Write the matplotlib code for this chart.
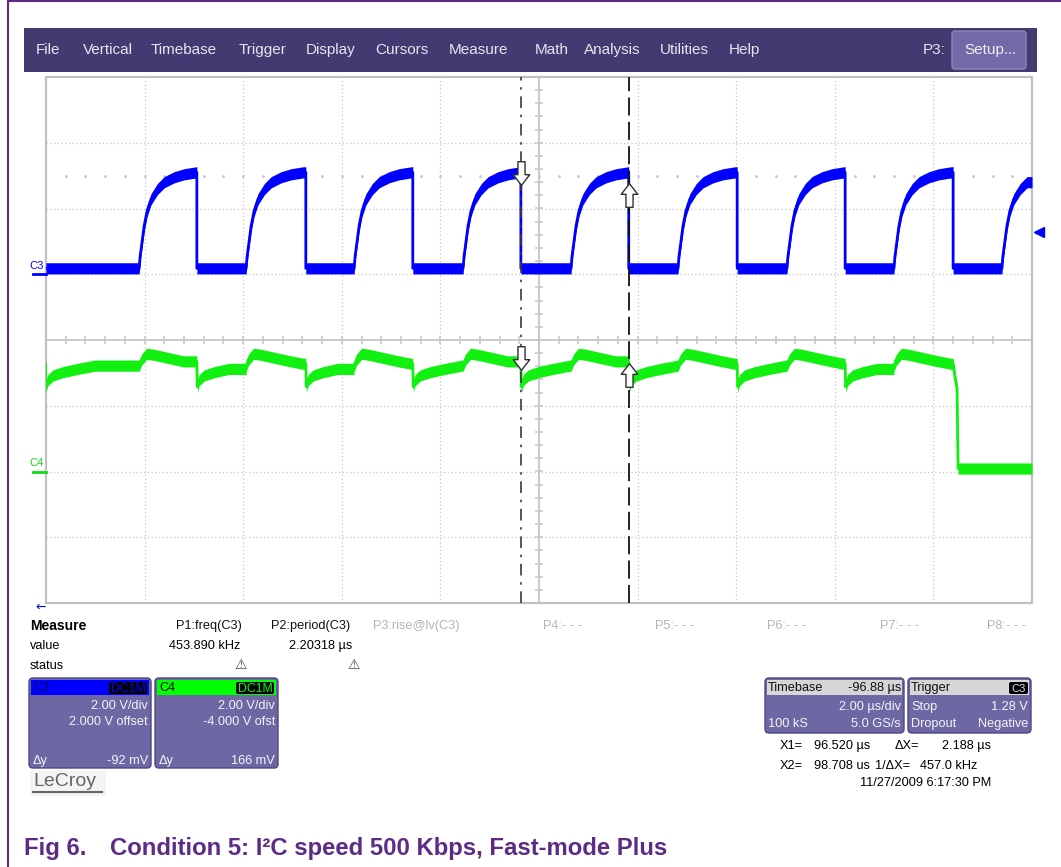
import numpy as np
import matplotlib
matplotlib.use("Agg")
import matplotlib.pyplot as plt
from matplotlib.patches import Rectangle, FancyBboxPatch
from matplotlib.path import Path

plt.rcParams["font.family"] = ["Liberation Sans", "DejaVu Sans"]

W, H = 1061, 867

# ---- scope settings (from the screen readout) ----
T_END = 20.0          # 10 div x 2 us/div, display time in us
VDIV = 2.0            # V/div, both channels
C3_OFFSET = 2.0       # V
C4_OFFSET = -4.0      # V
TRIG_LEVEL = 1.28     # V on C3
X1, X2 = 9.632, 11.820

# ---- C3 (blue) edges in us ----
C3_RISE = [1.89, 4.06, 6.25, 8.46, 10.65, 12.82, 15.03, 17.20, 19.39]
C3_FALL = [3.06, 5.27, 7.44, 9.632, 11.82, 14.02, 16.21, 18.40]
C3_LOW = 0.18
# shape of one C3 rising edge (time after edge in us, volts)
RISE_DT = [0.0, 0.02, 0.06, 0.10, 0.16, 0.24, 0.37, 0.51, 0.71, 0.91, 1.16]
RISE_V = [0.18, 0.55, 1.00, 1.46, 1.92, 2.28, 2.59, 2.80, 2.95, 3.04, 3.10]

# ---- C4 (green) shapes following the C3 edges ----
C4_FALL_DT = [0.0, 0.01, 0.05, 0.15, 0.35, 0.65, 1.00]
C4_FALL_V = [3.27, 2.58, 2.78, 2.92, 3.02, 3.12, 3.22]
C4_RISE_DT = [0.0, 0.05, 0.15, 0.30, 0.60, 0.90, 1.18]
C4_RISE_V = [3.22, 3.40, 3.58, 3.55, 3.45, 3.35, 3.27]
C4_DROP_T = [18.40, 18.44, 18.48, 18.50, 20.0]
C4_DROP_V = [3.27, 2.85, 2.52, 0.09, 0.09]

# cursor arrow levels (V) on each channel
ARROW_C3 = [3.07, 2.40]
ARROW_C4 = [3.44, 2.95]

MENU = ["File", "Vertical", "Timebase", "Trigger", "Display", "Cursors",
        "Measure", "Math", "Analysis", "Utilities", "Help"]
MENU_X = [36, 83, 151, 239, 306, 375, 449, 535, 584, 660, 729]

P_LABELS = ["P1:freq(C3)", "P2:period(C3)", "P3:rise@lv(C3)", "P4:- - -",
            "P5:- - -", "P6:- - -", "P7:- - -", "P8:- - -"]
P_LABEL_X = [176, 271, 373, 543, 655, 767, 880, 987]
P_VALUES = ["453.890 kHz", "2.20318 µs"]
P_VALUE_X = [169, 289]
P_WARN_X = [241, 354]


def seg(t, v, t0, t1, dts, vs):
    for dt, dv in zip(dts, vs):
        if t0 + dt <= t1:
            t.append(t0 + dt)
            v.append(dv)
    t.append(t1)
    v.append(v[-1])


def build_c3():
    t, v = [0.0], [C3_LOW]
    for i, r in enumerate(C3_RISE):
        end = C3_FALL[i] if i < len(C3_FALL) else T_END
        seg(t, v, r, end, RISE_DT, RISE_V)
        if i < len(C3_FALL):
            t.append(end)
            v.append(C3_LOW)
    return np.array(t), np.array(v)


def build_c4():
    t, v = [], []
    seg(t, v, -0.01, C3_RISE[0], C4_FALL_DT, C4_FALL_V)
    for i in range(len(C3_FALL)):
        seg(t, v, C3_RISE[i], C3_FALL[i], C4_RISE_DT, C4_RISE_V)
        if i == len(C3_FALL) - 1:
            t += C4_DROP_T
            v += C4_DROP_V
        else:
            seg(t, v, C3_FALL[i], C3_RISE[i + 1], C4_FALL_DT, C4_FALL_V)
    return np.array(t), np.array(v)


fig = plt.figure(figsize=(W / 100, H / 100), dpi=100)
fig.patch.set_facecolor("white")

# background axes in pixel units (origin top-left)
bg = fig.add_axes([0, 0, 1, 1])
bg.set_xlim(0, W)
bg.set_ylim(H, 0)
bg.axis("off")

purple = "#5b2b86"
bg.plot([8, W], [1, 1], color=purple, lw=1.5)
bg.plot([8, 8], [1, H], color=purple, lw=1.5)

# menu bar
bg.add_patch(Rectangle((24, 28), 1013, 44, fc="#433a72", ec="none"))
for name, x in zip(MENU, MENU_X):
    bg.text(x, 50, name, color="#e6e6ee", fontsize=11, va="center", ha="left")
bg.text(946, 50, "P3:", color="#e6e6ee", fontsize=11, va="center", ha="right")
bg.add_patch(FancyBboxPatch((952, 31), 74, 38, boxstyle="round,pad=0,rounding_size=3",
                            fc="#716aa6", ec="#8d87bb", lw=1))
bg.text(964, 50, "Setup...", color="#eeeef4", fontsize=11, va="center", ha="left")

# measurement table
small = 9.2
bg.text(30, 626, "Measure", fontsize=10, fontweight="bold", va="center")
bg.text(30, 646, "value", fontsize=small, va="center")
bg.text(30, 666, "status", fontsize=small, va="center")
for i, (lab, x) in enumerate(zip(P_LABELS, P_LABEL_X)):
    bg.text(x, 626, lab, fontsize=small, va="center",
            color="#111111" if i < 2 else "#b4b4b4")
for val, x in zip(P_VALUES, P_VALUE_X):
    bg.text(x, 646, val, fontsize=small, va="center")
for x in P_WARN_X:
    bg.text(x, 665, "⚠", fontsize=10, va="center", ha="center", color="#404040",
            family="DejaVu Sans")


def chan_box(x0, x1, color, name, name_color, lines, dy):
    bg.add_patch(FancyBboxPatch((x0, 678), x1 - x0, 90, boxstyle="round,pad=0,rounding_size=4",
                                fc="#6d67a3", ec="#4d4785", lw=1))
    bg.add_patch(Rectangle((x0 + 2, 680), x1 - x0 - 4, 15, fc=color, ec="none"))
    bg.text(x0 + 4, 688, name, fontsize=small, va="center", color=name_color)
    bg.add_patch(FancyBboxPatch((x1 - 42, 682), 38, 12, boxstyle="round,pad=0,rounding_size=2",
                                fc="black", ec="none"))
    bg.text(x1 - 23, 688.5, "DC1M", fontsize=8.8, va="center", ha="center", color=color)
    bg.text(x1 - 3, 706, lines[0], fontsize=small, va="center", ha="right", color="#f4f4f8")
    bg.text(x1 - 3, 722, lines[1], fontsize=small, va="center", ha="right", color="#f4f4f8")
    bg.text(x0 + 4, 761, "Δy", fontsize=small, va="center", color="#f4f4f8")
    bg.text(x1 - 3, 761, dy, fontsize=small, va="center", ha="right", color="#f4f4f8")


chan_box(29, 151, "#0000ff", "C3", "#000050", ["2.00 V/div", "2.000 V offset"], "-92 mV")
chan_box(155, 278, "#00ff00", "C4", "#000000", ["2.00 V/div", "-4.000 V ofst"], "166 mV")

bg.add_patch(Rectangle((30, 770), 76, 26, fc="#f4f4f4", ec="none"))
bg.text(33, 782, "LeCroy", fontsize=14, va="center", color="#666666")
bg.plot([33, 102], [792, 792], color="#666666", lw=1.5)


def info_box(x0, x1, title, right_title, rows):
    bg.add_patch(FancyBboxPatch((x0, 678), x1 - x0, 55, boxstyle="round,pad=0,rounding_size=4",
                                fc="#6d67a3", ec="#4d4785", lw=1))
    bg.add_patch(Rectangle((x0 + 2, 680), x1 - x0 - 4, 15, fc="#d6d6d6", ec="none"))
    bg.text(x0 + 3, 688, title, fontsize=small, va="center", color="#101010")
    if right_title is not None:
        bg.text(x1 - 3, 688, right_title, fontsize=small, va="center", ha="right", color="#101010")
    for y, (l, r) in zip([707, 724], rows):
        bg.text(x0 + 3, y, l, fontsize=small, va="center", color="#f4f4f8")
        bg.text(x1 - 3, y, r, fontsize=small, va="center", ha="right", color="#f4f4f8")


info_box(765, 904, "Timebase", "-96.88 µs", [("", "2.00 µs/div"), ("100 kS", "5.0 GS/s")])
info_box(908, 1031, "Trigger", None, [("Stop", "1.28 V"), ("Dropout", "Negative")])
bg.add_patch(FancyBboxPatch((1009, 682), 19, 12, boxstyle="round,pad=0,rounding_size=2",
                            fc="black", ec="none"))
bg.text(1018.5, 688.5, "C3", fontsize=8, va="center", ha="center", color="#d8d8ff")

bg.text(780, 746, "X1=", fontsize=small, va="center")
bg.text(814, 746, "96.520 µs", fontsize=small, va="center")
bg.text(895, 746, "ΔX=", fontsize=small, va="center")
bg.text(942, 746, "2.188 µs", fontsize=small, va="center")
bg.text(780, 766, "X2=", fontsize=small, va="center")
bg.text(814, 766, "98.708 us", fontsize=small, va="center")
bg.text(875, 766, "1/ΔX=", fontsize=small, va="center")
bg.text(920, 766, "457.0 kHz", fontsize=small, va="center")
bg.text(860, 783, "11/27/2009 6:17:30 PM", fontsize=small, va="center")

bg.text(41, 607, "←", fontsize=9, va="center", ha="center", color="#0000ff",
        family="DejaVu Sans")

# caption
bg.text(24, 848, "Fig 6.", fontsize=17.2, fontweight="bold", va="center", color=purple)
bg.text(110, 848, "Condition 5: I²C speed 500 Kbps, Fast-mode Plus", fontsize=17.2,
        fontweight="bold", va="center", color=purple)

# ---- graticule ----
ax = fig.add_axes([46 / W, 1 - 603 / H, 986 / W, 526 / H])
ax.set_xlim(0, T_END)
ax.set_ylim(-4, 4)
ax.axis("off")

gcol = "#c6c6c6"
for x in np.arange(2, T_END, 2):
    if x != 10:
        ax.axvline(x, color=gcol, lw=0.9, ls=(0, (1, 2)), zorder=1)
for y in range(-3, 4):
    if y != 0:
        ax.axhline(y, color=gcol, lw=0.9, ls=(0, (1, 2)), zorder=1)
ax.axvline(10, color=gcol, lw=1.3, zorder=1)
ax.axhline(0, color=gcol, lw=1.3, zorder=1)
ax.plot(np.arange(0.4, T_END, 0.4), np.zeros(49), ls="none", marker="|", ms=6,
        mew=1.1, color=gcol, zorder=1)
ax.plot(np.full(39, 10.0), np.arange(-3.8, 4.0, 0.2), ls="none", marker="_", ms=6,
        mew=1.1, color=gcol, zorder=1)
ax.plot(np.arange(0.4, T_END, 0.4), np.full(49, 2.5), ls="none", marker=".", ms=2,
        color="#c4c4c4", zorder=1)
ax.plot([0, T_END, T_END, 0, 0], [-4, -4, 4, 4, -4], color="#c0c0c0", lw=1.6,
        clip_on=False, zorder=1)

# traces
t3, v3 = build_c3()
t4, v4 = build_c4()
y3 = (v3 + C3_OFFSET) / VDIV
y4 = (v4 + C4_OFFSET) / VDIV
band = 0.085
ax.fill_between(t3, y3 - band, y3 + band, color="#0000ff", lw=0, zorder=3)
ax.plot(t3, y3, color="#0000ff", lw=2.0, zorder=3)
ax.fill_between(t4, y4 - band, y4 + band, color="#11f011", lw=0, zorder=3)
ax.plot(t4, y4, color="#11f011", lw=2.0, zorder=3)

# channel ground markers and labels
for off, col, name in [(C3_OFFSET, "#0000ff", "C3"), (C4_OFFSET, "#11dd11", "C4")]:
    g = off / VDIV
    ax.plot([-0.27, 0], [g, g], color=col, lw=2, clip_on=False, zorder=4)
    ax.text(-0.05, g + 0.13, name, color=col, fontsize=8, ha="right", va="center",
            clip_on=False)
ax.plot([20.14], [(TRIG_LEVEL + C3_OFFSET) / VDIV], marker="<", ms=7, color="#0000ff",
        clip_on=False, zorder=4)

# cursors
ax.axvline(X1, color="#3a3a3a", lw=1.2, ls=(0, (7, 4, 1.5, 4)), zorder=5)
ax.axvline(X2, color="#111111", lw=1.3, ls=(0, (10, 3.5)), zorder=5)

down = Path([(-0.3, 1), (0.3, 1), (0.3, -0.1), (0.7, -0.1), (0, -1), (-0.7, -0.1),
             (-0.3, -0.1), (-0.3, 1)], closed=True)
up = Path([(x, -y) for x, y in down.vertices], closed=True)
for xc, mk, i in [(X1, down, 0), (X2, up, 1)]:
    ax.plot([xc], [(ARROW_C3[i] + C3_OFFSET) / VDIV], marker=mk, ms=17, mfc="white",
            mec="#303030", mew=1, zorder=6)
    ax.plot([xc], [(ARROW_C4[i] + C4_OFFSET) / VDIV], marker=mk, ms=17, mfc="white",
            mec="#303030", mew=1, zorder=6)

fig.savefig("out.png", dpi=100)
